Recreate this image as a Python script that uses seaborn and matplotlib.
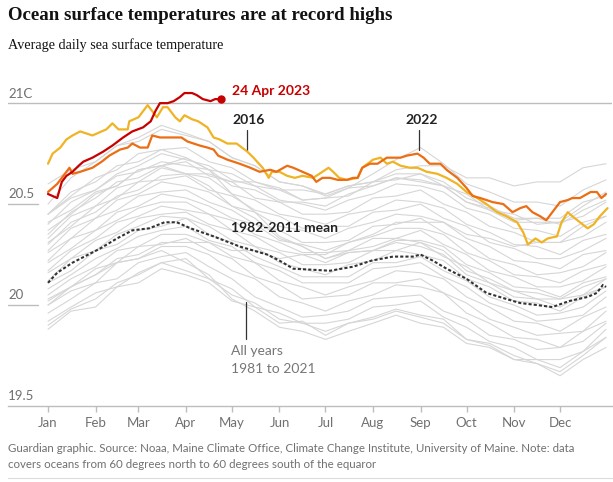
import numpy as np
import pandas as pd
import matplotlib
matplotlib.use("Agg")
import matplotlib.pyplot as plt
import matplotlib.transforms as mtransforms
import seaborn as sns

# ------------------------------------------------------------
# Data (day-of-year on x, deg C on y)
# ------------------------------------------------------------
month_days = [1, 32, 60, 91, 121, 152, 182, 213, 244, 274, 305, 335]
month_labels = ["Jan", "Feb", "Mar", "Apr", "May", "Jun",
                "Jul", "Aug", "Sep", "Oct", "Nov", "Dec"]

days_2023 = [1, 4, 7, 10, 13, 17, 21, 24, 30, 37, 43, 50, 56, 63, 68, 71, 74,
             79, 83, 87, 90, 95, 98, 102, 107, 110, 114]
temp_2023 = [20.55, 20.54, 20.53, 20.61, 20.64, 20.66, 20.69, 20.71, 20.73,
             20.76, 20.79, 20.83, 20.86, 20.88, 20.91, 20.96, 21.00, 21.00,
             21.01, 21.03, 21.05, 21.05, 21.04, 21.02, 21.01, 21.02, 21.02]

days_2016 = [1, 4, 9, 13, 17, 22, 26, 30, 36, 39, 43, 47, 53, 54, 60, 63, 66,
             69, 72, 76, 79, 84, 87, 90, 95, 99, 105, 109, 113, 118, 124, 131,
             135, 141, 145, 147, 152, 157, 162, 167, 174, 178, 184, 187, 191,
             196, 203, 206, 213, 218, 222, 226, 231, 237, 242, 248, 255, 261,
             268, 274, 281, 287, 294, 300, 307, 311, 314, 319, 323, 327, 333,
             336, 340, 343, 348, 353, 357, 361, 366]
temp_2016 = [20.70, 20.75, 20.78, 20.82, 20.84, 20.86, 20.85, 20.84, 20.86,
             20.87, 20.90, 20.87, 20.87, 20.91, 20.93, 20.96, 20.99, 20.96,
             20.93, 20.98, 20.98, 20.93, 20.91, 20.94, 20.92, 20.91, 20.88,
             20.83, 20.82, 20.80, 20.80, 20.76, 20.73, 20.68, 20.63, 20.66,
             20.66, 20.64, 20.63, 20.64, 20.63, 20.65, 20.68, 20.66, 20.63,
             20.62, 20.63, 20.68, 20.72, 20.73, 20.70, 20.71, 20.69, 20.68,
             20.68, 20.66, 20.65, 20.63, 20.60, 20.56, 20.53, 20.50, 20.46,
             20.44, 20.41, 20.36, 20.30, 20.33, 20.31, 20.33, 20.34, 20.41,
             20.46, 20.44, 20.41, 20.38, 20.40, 20.44, 20.48]

days_2022 = [1, 4, 7, 11, 15, 17, 22, 26, 30, 36, 41, 48, 53, 56, 61, 66, 69,
             74, 79, 83, 88, 92, 96, 100, 105, 109, 112, 118, 126, 133, 139,
             146, 150, 157, 161, 167, 173, 176, 180, 185, 190, 196, 200, 203,
             206, 211, 216, 222, 226, 231, 235, 242, 246, 250, 257, 261, 268,
             274, 278, 283, 287, 291, 298, 304, 309, 313, 317, 322, 326, 330,
             335, 340, 343, 348, 355, 359, 362, 365]
temp_2022 = [20.56, 20.58, 20.60, 20.64, 20.68, 20.65, 20.66, 20.67, 20.68,
             20.71, 20.74, 20.77, 20.78, 20.80, 20.78, 20.78, 20.84, 20.83,
             20.83, 20.83, 20.83, 20.81, 20.80, 20.79, 20.78, 20.77, 20.74,
             20.72, 20.70, 20.68, 20.66, 20.67, 20.66, 20.69, 20.68, 20.66,
             20.64, 20.61, 20.63, 20.63, 20.62, 20.62, 20.63, 20.63, 20.68,
             20.70, 20.70, 20.73, 20.73, 20.73, 20.74, 20.75, 20.73, 20.70,
             20.70, 20.67, 20.63, 20.58, 20.54, 20.53, 20.52, 20.51, 20.50,
             20.46, 20.48, 20.49, 20.46, 20.44, 20.42, 20.46, 20.51, 20.52,
             20.53, 20.53, 20.56, 20.56, 20.53, 20.55]

days_mean = [1, 7, 17, 35, 46, 56, 67, 77, 85, 94, 109, 126, 144, 152, 161,
             185, 200, 212, 226, 239, 244, 252, 261, 274, 287, 300, 309, 320,
             330, 341, 353, 359, 363, 365]
temp_mean = [20.11, 20.16, 20.21, 20.28, 20.33, 20.37, 20.38, 20.41, 20.41,
             20.38, 20.34, 20.29, 20.25, 20.22, 20.18, 20.17, 20.19, 20.22,
             20.24, 20.24, 20.25, 20.22, 20.18, 20.13, 20.06, 20.03, 20.01,
             20.00, 19.99, 20.02, 20.04, 20.06, 20.10, 20.09]

# all other years 1981-2021, sampled roughly twice a month
grey_days = [1, 16, 32, 46, 60, 75, 91, 106, 121, 136, 152, 167, 182, 197,
             213, 228, 244, 259, 274, 289, 305, 320, 335, 350, 365]
grey_years = [
    [19.88, 19.97, 19.99, 20.09, 20.11, 20.18, 20.15, 20.11, 20.02, 19.99, 19.91, 19.92, 19.85, 19.91, 19.94, 19.98, 19.95, 19.93, 19.83, 19.81, 19.75, 19.71, 19.67, 19.75, 19.84],
    [19.92, 19.99, 20.06, 20.09, 20.16, 20.21, 20.23, 20.13, 20.08, 19.99, 19.96, 19.91, 19.91, 19.93, 19.99, 20.00, 20.02, 19.94, 19.89, 19.82, 19.79, 19.73, 19.73, 19.77, 19.88],
    [19.96, 20.03, 20.11, 20.13, 20.21, 20.24, 20.26, 20.19, 20.13, 20.04, 19.99, 19.94, 19.95, 19.97, 20.03, 20.04, 20.05, 19.97, 19.93, 19.85, 19.83, 19.78, 19.79, 19.82, 19.91],
    [20.00, 20.07, 20.11, 20.21, 20.23, 20.29, 20.29, 20.25, 20.17, 20.13, 20.04, 20.01, 19.97, 20.02, 20.05, 20.10, 20.09, 20.06, 19.96, 19.91, 19.84, 19.83, 19.79, 19.87, 19.92],
    [20.03, 20.09, 20.18, 20.21, 20.29, 20.30, 20.33, 20.27, 20.23, 20.14, 20.10, 20.03, 20.04, 20.05, 20.11, 20.11, 20.13, 20.06, 20.01, 19.93, 19.89, 19.85, 19.86, 19.87, 19.97],
    [20.05, 20.13, 20.19, 20.27, 20.29, 20.35, 20.35, 20.31, 20.24, 20.21, 20.12, 20.09, 20.05, 20.09, 20.12, 20.17, 20.16, 20.13, 20.04, 19.99, 19.92, 19.91, 19.87, 19.94, 19.99],
    [20.08, 20.15, 20.23, 20.28, 20.34, 20.37, 20.39, 20.32, 20.29, 20.21, 20.17, 20.11, 20.11, 20.11, 20.18, 20.19, 20.21, 20.14, 20.09, 20.01, 19.97, 19.92, 19.93, 19.95, 20.04],
    [20.11, 20.17, 20.27, 20.30, 20.37, 20.39, 20.43, 20.35, 20.31, 20.24, 20.19, 20.14, 20.14, 20.14, 20.21, 20.21, 20.24, 20.17, 20.12, 20.04, 20.00, 19.95, 19.96, 19.99, 20.07],
    [20.12, 20.23, 20.27, 20.35, 20.39, 20.44, 20.43, 20.39, 20.32, 20.29, 20.21, 20.18, 20.15, 20.20, 20.22, 20.27, 20.25, 20.22, 20.13, 20.09, 20.02, 20.01, 19.97, 20.04, 20.09],
    [20.16, 20.23, 20.32, 20.36, 20.43, 20.45, 20.46, 20.40, 20.37, 20.29, 20.26, 20.20, 20.20, 20.21, 20.27, 20.27, 20.31, 20.24, 20.19, 20.11, 20.07, 20.03, 20.03, 20.05, 20.13],
    [20.17, 20.27, 20.33, 20.41, 20.44, 20.49, 20.47, 20.45, 20.37, 20.34, 20.27, 20.25, 20.21, 20.26, 20.27, 20.32, 20.32, 20.29, 20.20, 20.16, 20.09, 20.08, 20.04, 20.11, 20.14],
    [20.21, 20.28, 20.37, 20.42, 20.48, 20.51, 20.51, 20.45, 20.42, 20.35, 20.31, 20.26, 20.26, 20.27, 20.33, 20.33, 20.37, 20.30, 20.25, 20.17, 20.14, 20.09, 20.09, 20.12, 20.19],
    [20.22, 20.33, 20.37, 20.46, 20.49, 20.55, 20.53, 20.49, 20.43, 20.40, 20.32, 20.30, 20.27, 20.31, 20.34, 20.38, 20.38, 20.35, 20.26, 20.22, 20.15, 20.14, 20.11, 20.17, 20.20],
    [20.26, 20.33, 20.43, 20.47, 20.54, 20.56, 20.57, 20.51, 20.47, 20.40, 20.37, 20.31, 20.31, 20.32, 20.39, 20.40, 20.43, 20.36, 20.31, 20.23, 20.20, 20.15, 20.16, 20.19, 20.26],
    [20.27, 20.38, 20.43, 20.52, 20.55, 20.61, 20.59, 20.56, 20.49, 20.46, 20.39, 20.37, 20.33, 20.38, 20.41, 20.45, 20.44, 20.41, 20.33, 20.29, 20.22, 20.21, 20.18, 20.25, 20.27],
    [20.31, 20.39, 20.49, 20.53, 20.61, 20.62, 20.64, 20.57, 20.54, 20.47, 20.44, 20.38, 20.39, 20.39, 20.46, 20.47, 20.50, 20.43, 20.39, 20.31, 20.28, 20.23, 20.23, 20.27, 20.33],
    [20.33, 20.44, 20.49, 20.58, 20.61, 20.68, 20.65, 20.63, 20.55, 20.52, 20.45, 20.43, 20.40, 20.45, 20.47, 20.52, 20.51, 20.48, 20.40, 20.36, 20.30, 20.29, 20.25, 20.32, 20.35],
    [20.37, 20.45, 20.55, 20.59, 20.67, 20.69, 20.71, 20.64, 20.61, 20.53, 20.51, 20.45, 20.45, 20.46, 20.53, 20.54, 20.57, 20.50, 20.46, 20.39, 20.36, 20.31, 20.31, 20.34, 20.41],
    [20.40, 20.51, 20.57, 20.65, 20.69, 20.75, 20.72, 20.69, 20.62, 20.59, 20.52, 20.50, 20.47, 20.52, 20.55, 20.60, 20.59, 20.56, 20.48, 20.45, 20.38, 20.37, 20.34, 20.41, 20.44],
    [20.45, 20.54, 20.63, 20.67, 20.75, 20.77, 20.78, 20.71, 20.68, 20.61, 20.58, 20.52, 20.53, 20.54, 20.61, 20.62, 20.65, 20.59, 20.55, 20.47, 20.45, 20.40, 20.41, 20.44, 20.51],
    [20.30, 20.41, 20.46, 20.54, 20.57, 20.64, 20.65, 20.65, 20.61, 20.61, 20.57, 20.57, 20.55, 20.59, 20.61, 20.67, 20.69, 20.69, 20.63, 20.63, 20.59, 20.61, 20.61, 20.68, 20.70],
    [20.50, 20.63, 20.71, 20.79, 20.81, 20.87, 20.84, 20.81, 20.73, 20.69, 20.61, 20.59, 20.55, 20.59, 20.61, 20.65, 20.65, 20.61, 20.53, 20.49, 20.43, 20.43, 20.40, 20.47, 20.52],
    [20.45, 20.53, 20.57, 20.64, 20.66, 20.71, 20.69, 20.67, 20.59, 20.57, 20.51, 20.51, 20.49, 20.55, 20.59, 20.63, 20.61, 20.59, 20.51, 20.47, 20.41, 20.41, 20.41, 20.49, 20.56],
    [20.60, 20.67, 20.71, 20.79, 20.83, 20.89, 20.85, 20.81, 20.73, 20.69, 20.61, 20.59, 20.54, 20.58, 20.59, 20.63, 20.62, 20.59, 20.51, 20.48, 20.42, 20.43, 20.43, 20.51, 20.54],
    [20.45, 20.56, 20.61, 20.69, 20.71, 20.77, 20.73, 20.67, 20.55, 20.46, 20.34, 20.29, 20.23, 20.26, 20.27, 20.31, 20.29, 20.25, 20.15, 20.11, 20.04, 20.03, 19.99, 20.05, 20.09],
    [20.02, 20.09, 20.15, 20.21, 20.23, 20.27, 20.21, 20.15, 20.03, 19.97, 19.89, 19.87, 19.83, 19.87, 19.91, 19.95, 19.91, 19.89, 19.81, 19.79, 19.73, 19.73, 19.69, 19.77, 19.84],
    [20.00, 20.09, 20.15, 20.23, 20.25, 20.31, 20.31, 20.31, 20.27, 20.27, 20.23, 20.25, 20.25, 20.31, 20.35, 20.41, 20.41, 20.41, 20.35, 20.33, 20.29, 20.31, 20.31, 20.39, 20.44],
    [20.35, 20.46, 20.53, 20.61, 20.63, 20.69, 20.65, 20.59, 20.49, 20.43, 20.33, 20.29, 20.23, 20.27, 20.29, 20.33, 20.31, 20.27, 20.17, 20.13, 20.07, 20.06, 20.03, 20.09, 20.13],
    [20.41, 20.47, 20.56, 20.59, 20.67, 20.69, 20.73, 20.67, 20.65, 20.59, 20.57, 20.52, 20.53, 20.58, 20.65, 20.72, 20.78, 20.70, 20.60, 20.56, 20.51, 20.51, 20.49, 20.57, 20.62],
    [19.90, 19.98, 20.03, 20.11, 20.15, 20.21, 20.17, 20.13, 20.05, 20.01, 19.93, 19.91, 19.87, 19.91, 19.93, 19.97, 19.94, 19.91, 19.83, 19.80, 19.73, 19.71, 19.65, 19.73, 19.79],
]

# long form for seaborn
grey_df = pd.DataFrame({
    "year": np.repeat(np.arange(len(grey_years)), len(grey_days)),
    "day": np.tile(grey_days, len(grey_years)),
    "temp": np.concatenate(grey_years),
})

# ------------------------------------------------------------
# Figure
# ------------------------------------------------------------
sns.set_style("white")
plt.rcParams["font.family"] = ["Lato", "DejaVu Sans"]

W, H = 613, 482
fig = plt.figure(figsize=(W / 100, H / 100), dpi=100)
ax = fig.add_axes([8 / W, 1 - 406 / H, 604 / W, (406 - 87) / H])

axis_grey = "#bdbdbd"
text_grey = "#707070"

sns.lineplot(data=grey_df, x="day", y="temp", units="year", estimator=None,
             color="#d6d6d6", linewidth=0.8, ax=ax, zorder=1)
sns.lineplot(x=days_mean, y=temp_mean, color="#333333", linewidth=1.5,
             linestyle=(0, (1.5, 1.0)), ax=ax, zorder=3)
sns.lineplot(x=days_2016, y=temp_2016, color="#f0b323", linewidth=1.6,
             ax=ax, zorder=4)
sns.lineplot(x=days_2022, y=temp_2022, color="#eb6d14", linewidth=1.6,
             ax=ax, zorder=5)
sns.lineplot(x=days_2023, y=temp_2023, color="#c70000", linewidth=1.6,
             ax=ax, zorder=6)
ax.plot(days_2023[-1], temp_2023[-1], "o", color="#c70000", markersize=5,
        zorder=7)

ax.set_xlim(-25.1, 368.9)
ax.set_ylim(19.5, 21.08)

# y "axis": full line at 21, short stubs at 20.5 / 20, labels above
ax.axhline(21, color=axis_grey, linewidth=1, zorder=0)
for v in [20.5, 20]:
    ax.axhline(v, xmin=0, xmax=30 / 604, color=axis_grey, linewidth=1, zorder=0)
ytrans = mtransforms.blended_transform_factory(ax.transAxes, ax.transData)
for v, lab in zip([21, 20.5, 20, 19.5], ["21C", "20.5", "20", "19.5"]):
    ax.text(0, v + 0.018, lab, transform=ytrans, ha="left", va="bottom",
            fontsize=9.5, color=text_grey)
ax.set_yticks([])

for s in ["top", "left", "right"]:
    ax.spines[s].set_visible(False)
ax.spines["bottom"].set_color(axis_grey)
ax.spines["bottom"].set_linewidth(1)

ax.set_xticks(month_days)
ax.set_xticklabels(month_labels)
ax.tick_params(axis="x", length=4, width=1, color=axis_grey, pad=4,
               labelsize=9.5, labelcolor=text_grey, bottom=True)
ax.set_xlabel("")
ax.set_ylabel("")

# annotations
ax.text(121, 21.06, "24 Apr 2023", color="#c70000", fontsize=10,
        fontweight="bold", va="center", ha="left")
ax.text(121, 20.916, "2016", color="#222222", fontsize=10,
        fontweight="bold", va="center", ha="left")
ax.plot([131, 131], [20.866, 20.767], color="#333333", linewidth=0.9)
ax.text(234, 20.916, "2022", color="#222222", fontsize=10,
        fontweight="bold", va="center", ha="left")
ax.plot([243, 243], [20.866, 20.767], color="#333333", linewidth=0.9)
ax.text(120.5, 20.381, "1982-2011 mean", color="#222222", fontsize=10,
        fontweight="bold", va="center", ha="left")
ax.text(120.5, 19.772, "All years", color="#767676", fontsize=10,
        va="center", ha="left")
ax.text(120.5, 19.683, "1981 to 2021", color="#767676", fontsize=10,
        va="center", ha="left")
ax.plot([130, 130], [20.015, 19.832], color="#333333", linewidth=0.9)

# title block
fig.text(8 / W, 1 - 16 / H, "Ocean surface temperatures are at record highs",
         family=["Liberation Serif", "DejaVu Serif"], fontweight="bold",
         fontsize=13.6, color="#121212", va="center", ha="left")
fig.text(8 / W, 1 - 45 / H, "Average daily sea surface temperature",
         family=["Liberation Serif", "DejaVu Serif"], fontsize=10.2,
         color="#121212", va="center", ha="left")

# footer
fig.text(8 / W, 1 - 449 / H,
         "Guardian graphic. Source: Noaa, Maine Climate Office, Climate Change "
         "Institute, University of Maine. Note: data",
         fontsize=8.3, color=text_grey, va="center", ha="left")
fig.text(8 / W, 1 - 464 / H,
         "covers oceans from 60 degrees north to 60 degrees south of the equaror",
         fontsize=8.3, color=text_grey, va="center", ha="left")
fig.add_artist(plt.Line2D([8 / W, 612 / W], [1 - 478 / H, 1 - 478 / H],
                          color="#dcdcdc", linewidth=0.8))

fig.savefig("out.png", dpi=100)
